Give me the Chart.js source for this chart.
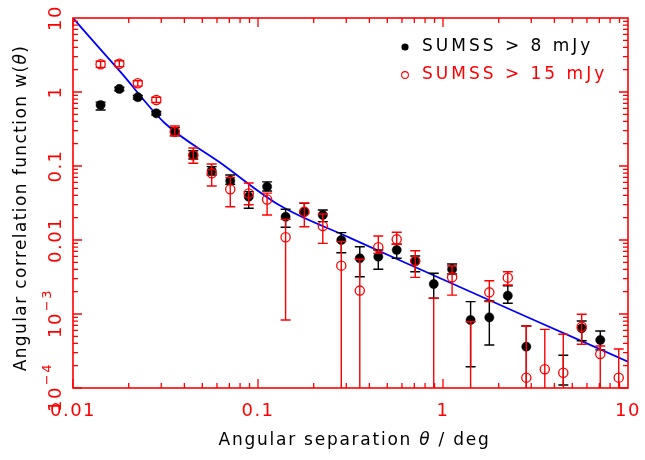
<!DOCTYPE html>
<html><head><meta charset="utf-8">
<script src="https://cdn.jsdelivr.net/npm/chart.js@4.4.0/dist/chart.umd.min.js"></script>
<style>html,body{margin:0;padding:0;background:#fff;} #wrap{width:645px;height:460px;}</style>
</head><body><div id="wrap"><canvas id="c" width="645" height="460"></canvas></div>
<script>
// Angular separation (deg)
const theta = [0.0141, 0.0178, 0.0224, 0.0282, 0.0355, 0.0447, 0.0562, 0.0708, 0.0891, 0.112,
  0.141, 0.178, 0.224, 0.282, 0.355, 0.447, 0.562, 0.708, 0.891, 1.12,
  1.41, 1.78, 2.24, 2.82, 3.55, 4.47, 5.62, 7.08, 8.91];
// SUMSS > 8 mJy
const w8 = [0.667, 1.10, 0.85, 0.515, 0.291, 0.141, 0.0865, 0.0634, 0.0385, 0.0526,
  0.0206, 0.0241, 0.0218, 0.0100, 0.00566, 0.00596, 0.00733, 0.0052, 0.00254, 0.00402,
  0.00083, 0.0009, 0.00177, 0.000362, null, null, 0.000641, 0.000445, null];
const w8Hi = [0.73, 1.16, 0.90, 0.545, 0.33, 0.161, 0.098, 0.0756, 0.045, 0.061,
  0.026, 0.0313, 0.0254, 0.01256, 0.0081, 0.00733, 0.00875, 0.00608, 0.00355, 0.00474,
  0.00147, 0.0015, 0.00241, 0.00069, null, 0.000277, 0.000804, 0.000589, null];
const w8Lo = [0.57, 1.04, 0.80, 0.487, 0.255, 0.1245, 0.0756, 0.0566, 0.0268, 0.046,
  0.0149, 0.023, 0.0177, 0.00674, 0.00319, 0.00402, 0.00566, 0.00373, 0.00163, 0.00347,
  0.000194, 0.000381, 0.0014, 0.00005, null, 0.00011, 0.000436, 0.000327, null];
// SUMSS > 15 mJy
const w15 = [2.37, 2.41, 1.31, 0.78, 0.29, 0.14, 0.0796, 0.0484, 0.0425, 0.0352,
  0.0109, 0.0241, 0.0155, 0.0045, 0.00207, 0.00797, 0.0102, 0.0052, null, 0.00313,
  null, 0.00196, 0.0031, 0.000138, 0.000179, 0.000161, 0.000673, 0.000288, 0.000138];
const w15Hi = [2.6, 2.65, 1.42, 0.85, 0.347, 0.175, 0.1065, 0.0703, 0.059, 0.043,
  0.019, 0.0316, 0.0225, 0.0095, 0.0055, 0.0113, 0.0127, 0.00717, 0.00163, 0.00445,
  0.000787, 0.00282, 0.00373, 0.00069, 0.00062, 0.000532, 0.00099, 0.00037, 0.000337];
const w15Lo = [2.15, 2.2, 1.2, 0.72, 0.257, 0.1087, 0.0537, 0.0282, 0.030, 0.0218,
  0.00083, 0.0151, 0.009, 0.00005, 0.00005, 0.0066, 0.00875, 0.00313, 0.00005, 0.0018,
  0.00005, 0.00147, 0.00247, 0.00005, 0.00005, 0.00005, 0.00039, 0.00005, 0.00005];
// Fitted model curve
const fitTheta = [0.01, 0.014, 0.018, 0.0314, 0.0623, 0.1315, 0.314, 0.751, 2.95, 10];
const fitW = [10, 3.82, 1.88, 0.378, 0.1115, 0.0292, 0.0107, 0.00402, 0.000877, 0.000227];
// Axis ticks
const xTicks = [0.01, 0.1, 1, 10];
const xTickLabels = ['0.01', '0.1', '1', '10'];
const yTicks = [10, 1, 0.1, 0.01, 0.001, 0.0001];
const yTickLabels = [['10', ''], ['1', ''], ['0.1', ''], ['0.01', ''], ['10', '\u22123'], ['10', '\u22124']];
const seriesNames = ['SUMSS > 8 mJy', 'SUMSS > 15 mJy'];
const xTitle = ['Angular separation ', '\u03b8', ' / deg'];
const yTitle = ['Angular correlation function w(', '\u03b8', ')'];

const RED = '#ff0000', BLUE = '#0000ff';
const FONT = '"DejaVu Sans", sans-serif';

function pts(ys) {
  const out = [];
  theta.forEach((t, i) => { if (ys[i] != null) out.push({x: t, y: ys[i]}); });
  return out;
}

function drawBars(chart, hi, lo, color) {
  const {ctx, chartArea: a, scales: {x, y}} = chart;
  ctx.save();
  ctx.beginPath(); ctx.rect(a.left - 6, a.top - 1, a.right - a.left + 12, a.bottom - a.top + 1); ctx.clip();
  ctx.strokeStyle = color; ctx.lineWidth = 1.4;
  for (let i = 0; i < theta.length; i++) {
    if (hi[i] == null) continue;
    const px = x.getPixelForValue(theta[i]);
    const yh = y.getPixelForValue(hi[i]);
    const yl = Math.min(y.getPixelForValue(lo[i]), a.bottom + 20);
    ctx.beginPath();
    ctx.moveTo(px, yh); ctx.lineTo(px, yl);
    ctx.moveTo(px - 5, yh); ctx.lineTo(px + 5, yh);
    if (yl <= a.bottom) { ctx.moveTo(px - 5, yl); ctx.lineTo(px + 5, yl); }
    ctx.stroke();
  }
  ctx.restore();
}

function textSpaced(ctx, s, x, y, sp) {
  ctx.letterSpacing = sp + 'px';
  ctx.fillText(s, x, y);
  const w = ctx.measureText(s).width;
  ctx.letterSpacing = '0px';
  return w;
}

function drawMixed(ctx, parts, cx, cy, size, sp) {
  const fonts = [size + 'px ' + FONT, 'italic ' + size + 'px ' + FONT, size + 'px ' + FONT];
  let widths = parts.map((p, i) => { ctx.font = fonts[i]; ctx.letterSpacing = sp + 'px'; const w = ctx.measureText(p).width; ctx.letterSpacing = '0px'; return w; });
  const total = widths.reduce((a, b) => a + b, 0);
  let x = cx - total / 2;
  ctx.textAlign = 'left'; ctx.textBaseline = 'middle';
  parts.forEach((p, i) => { ctx.font = fonts[i]; textSpaced(ctx, p, x, cy, sp); x += widths[i]; });
}

const decor = {
  id: 'decor',
  beforeDatasetDraw(chart, args) {
    if (args.index === 1) drawBars(chart, w8Hi, w8Lo, '#000000');
  },
  afterDatasetDraw(chart, args) {
    if (args.index === 1) drawBars(chart, w15Hi, w15Lo, RED);
  },
  afterDraw(chart) {
    const {ctx, chartArea: a, scales: {x, y}} = chart;
    ctx.save();
    ctx.strokeStyle = RED; ctx.lineWidth = 1.6;
    ctx.strokeRect(a.left, a.top, a.right - a.left, a.bottom - a.top);
    ctx.lineWidth = 1.3;
    for (let d = -2; d <= 0; d++) {
      for (let k = 1; k <= 9; k++) {
        const v = k * Math.pow(10, d);
        const px = x.getPixelForValue(v);
        const L = k === 1 ? 9 : 5;
        ctx.beginPath();
        ctx.moveTo(px, a.bottom); ctx.lineTo(px, a.bottom - L);
        ctx.moveTo(px, a.top); ctx.lineTo(px, a.top + L);
        ctx.stroke();
      }
    }
    for (let d = -4; d <= 0; d++) {
      for (let k = 1; k <= 9; k++) {
        const v = k * Math.pow(10, d);
        const py = y.getPixelForValue(v);
        const L = k === 1 ? 9 : 5;
        ctx.beginPath();
        ctx.moveTo(a.left, py); ctx.lineTo(a.left + L, py);
        ctx.moveTo(a.right, py); ctx.lineTo(a.right - L, py);
        ctx.stroke();
      }
    }
    ctx.fillStyle = RED;
    ctx.font = '18px ' + FONT; ctx.textAlign = 'center'; ctx.textBaseline = 'middle';
    xTicks.forEach((v, i) => {
      ctx.letterSpacing = '1.5px';
      ctx.fillText(xTickLabels[i], x.getPixelForValue(v), 411);
      ctx.letterSpacing = '0px';
    });
    yTicks.forEach((v, i) => {
      const py = y.getPixelForValue(v);
      const [base, sup] = yTickLabels[i];
      ctx.save();
      ctx.translate(56, py); ctx.rotate(-Math.PI / 2);
      ctx.textBaseline = 'middle'; ctx.textAlign = 'left';
      ctx.font = '18px ' + FONT; ctx.letterSpacing = '1.5px';
      const wb = ctx.measureText(base).width;
      ctx.font = '13px ' + FONT;
      const ws = sup ? ctx.measureText(sup).width : 0;
      const tot = wb + ws;
      ctx.font = '18px ' + FONT;
      ctx.fillText(base, -tot / 2, 0);
      if (sup) { ctx.font = '13px ' + FONT; ctx.fillText(sup, -tot / 2 + wb + 1, -8); }
      ctx.letterSpacing = '0px';
      ctx.restore();
    });
    ctx.fillStyle = '#000000';
    drawMixed(ctx, xTitle, (a.left + a.right) / 2 + 4, 441, 17, 1.75);
    ctx.save();
    ctx.translate(22, (a.top + a.bottom) / 2 + 5); ctx.rotate(-Math.PI / 2);
    drawMixed(ctx, yTitle, 0, 0, 17, 1.4);
    ctx.restore();
    ctx.font = '17px ' + FONT; ctx.textAlign = 'left'; ctx.textBaseline = 'middle';
    ctx.fillStyle = '#000000';
    ctx.beginPath(); ctx.arc(405, 47, 3.6, 0, Math.PI * 2); ctx.fill();
    textSpaced(ctx, seriesNames[0], 422, 47, 3);
    ctx.strokeStyle = RED; ctx.lineWidth = 1.1;
    ctx.beginPath(); ctx.arc(405, 75, 3.4, 0, Math.PI * 2); ctx.stroke();
    ctx.fillStyle = RED;
    textSpaced(ctx, seriesNames[1], 422, 75, 3);
    ctx.restore();
  }
};

new Chart(document.getElementById('c'), {
  type: 'scatter',
  data: {
    datasets: [
      { type: 'line', label: 'fit', data: fitTheta.map((t, i) => ({x: t, y: fitW[i]})),
        borderColor: BLUE, borderWidth: 1.8, pointRadius: 0, tension: 0.35, cubicInterpolationMode: 'monotone', fill: false, order: 3 },
      { label: seriesNames[0], data: pts(w8), backgroundColor: '#000000', borderColor: '#000000',
        pointRadius: 4.6, pointBorderWidth: 0.5, order: 2 },
      { label: seriesNames[1], data: pts(w15), backgroundColor: 'rgba(0,0,0,0)', borderColor: RED,
        pointRadius: 4.6, pointBorderWidth: 1.3, order: 1 }
    ]
  },
  options: {
    responsive: false, animation: false, devicePixelRatio: 1,
    layout: { padding: { left: 73, right: 17, top: 18, bottom: 72 } },
    plugins: { legend: { display: false }, tooltip: { enabled: false } },
    scales: {
      x: { type: 'logarithmic', min: 0.01, max: 10, display: false },
      y: { type: 'logarithmic', min: 0.0001, max: 10, display: false }
    }
  },
  plugins: [decor]
});
</script></body></html>
